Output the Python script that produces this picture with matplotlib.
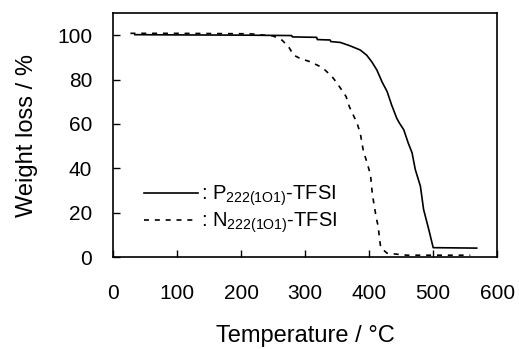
import matplotlib.pyplot as plt
from matplotlib.lines import Line2D

plt.rcParams['font.family'] = ['Liberation Sans', 'DejaVu Sans']
plt.rcParams['mathtext.default'] = 'regular'

# P222(1O1)-TFSI (solid)
p_temp = [34, 100, 200, 279, 280, 318, 319, 339, 340, 355, 370, 386, 396, 404,
          412, 420, 428, 435, 443, 447, 454, 461, 467, 472, 480, 485, 493, 500,
          568]
p_weight = [100.2, 100.1, 100.0, 99.8, 99.2, 99.0, 98.0, 97.8, 97.1, 96.7, 95.2,
            93.3, 91.0, 88.0, 84.3, 79.0, 74.6, 68.6, 62.6, 60.5, 57.4, 51.4,
            47.0, 39.5, 32.0, 21.5, 12.6, 4.3, 4.1]

# N222(1O1)-TFSI (dashed)
n_temp = [27, 100, 214, 250, 264, 274, 282, 292, 308, 321, 331, 342, 350, 357,
          364, 369, 375, 381, 386, 391, 396, 402, 405, 408, 411, 414, 416, 418,
          428, 459, 558]
n_weight = [100.8, 100.8, 100.6, 99.6, 97.7, 94.8, 91.0, 89.5, 88.0, 86.2, 84.3,
            81.3, 78.3, 75.3, 72.3, 67.8, 64.1, 60.4, 55.9, 47.7, 43.2, 37.2,
            28.3, 23.0, 17.8, 14.0, 8.8, 4.3, 1.8, 0.9, 0.9]

x_ticks = [0, 100, 200, 300, 400, 500, 600]
y_ticks = [0, 20, 40, 60, 80, 100]

fig = plt.figure(figsize=(5.19, 3.49), dpi=100)
ax = fig.add_axes([0.218, 0.263, 0.740, 0.700])

ax.plot(p_temp, p_weight, color='black', lw=1.2)
ax.plot(n_temp, n_weight, color='black', lw=1.2, dashes=(3, 3.5))

ax.set_xlim(0, 600)
ax.set_ylim(0, 110)
ax.set_xticks(x_ticks)
ax.set_yticks(y_ticks)
ax.tick_params(direction='in', length=5, width=1, labelsize=15)
ax.tick_params(axis='x', pad=19)
ax.tick_params(axis='y', pad=15)
for s in ax.spines.values():
    s.set_linewidth(1.2)

ax.set_xlabel('Temperature / °C', fontsize=17, labelpad=16)
ax.set_ylabel('Weight loss / %', fontsize=17, labelpad=14)

handles = [Line2D([], [], color='black', lw=1.2),
           Line2D([], [], color='black', lw=1.2, dashes=(3, 3.5))]
labels = [': P$_{222(1O1)}$-TFSI', ': N$_{222(1O1)}$-TFSI']
ax.legend(handles, labels, frameon=False, fontsize=14.5, loc='lower left',
          bbox_to_anchor=(0.032, 0.015), handlelength=2.7, handletextpad=0.15,
          labelspacing=0.15)

fig.savefig('out.png', dpi=100)
